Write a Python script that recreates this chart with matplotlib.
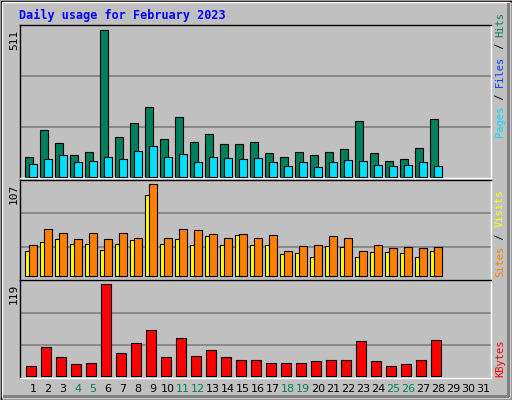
import matplotlib
matplotlib.use("Agg")
import matplotlib.pyplot as plt
from matplotlib.patches import Rectangle

days = list(range(1, 32))
hits = [67,161,115,74,84,511,136,185,241,129,206,119,147,112,112,119,81,67,84,74,84,95,192,81,53,60,98,199]
files = [42,60,74,49,53,67,60,88,105,67,77,49,67,63,60,63,49,35,49,32,49,56,53,39,35,39,49,35]
sites = [30,40,43,37,37,31,37,42,94,38,43,36,47,36,48,36,36,26,27,22,35,34,22,28,28,27,22,29]
visits = [36,55,50,43,50,43,50,45,107,44,55,54,49,45,49,44,48,29,35,36,47,45,30,36,33,34,33,34]
kbytes = [12,37,25,15,17,119,29,42,59,25,49,26,33,24,21,20,17,16,17,19,20,21,45,19,12,15,21,46]
weekend_days = [4,5,11,12,18,19,25,26]

W, H = 512, 400
fig = plt.figure(figsize=(W/100, H/100), dpi=100)
fig.patch.set_facecolor("#C0C0C0")
bg = fig.add_axes([0, 0, 1, 1]); bg.set_xlim(0, W); bg.set_ylim(H, 0); bg.axis("off")
bg.add_patch(Rectangle((0.5, 0.5), W-1, H-1, fill=False, ec="black", lw=1))
bg.add_patch(Rectangle((1.5, 1.5), W-5, H-5, fill=False, ec="white", lw=1))
bg.add_patch(Rectangle((W-5, 3), 3, H-6, fc="#808080", ec="none"))
bg.add_patch(Rectangle((3, H-5), W-6, 3, fc="#808080", ec="none"))
bg.text(19, 15, "Daily usage for February 2023", color="#0000FF", fontsize=8.5,
        family="DejaVu Sans Mono", fontweight="bold", va="center", ha="left")

L, R = 20.3, 490.7
def mkax(top, bottom):
    ax = fig.add_axes([L/W, 1-bottom/H, (R-L)/W, (bottom-top)/H])
    ax.set_facecolor("#C0C0C0")
    ax.set_xlim(0, (R-L)/15)
    for s in ax.spines.values():
        s.set_color("white"); s.set_linewidth(1)
    ax.spines["left"].set_color("black"); ax.spines["top"].set_color("black")
    ax.set_xticks([]); ax.set_yticks([])
    return ax

def grid(ax):
    lo, hi = ax.get_ylim()
    for f in (1/3, 2/3):
        ax.axhline(lo + f*(hi-lo), color="#808080", lw=1.2, zorder=0)

n = len(hits)
x = list(range(1, n+1))
ax1 = mkax(25, 178); ax1.set_ylim(-5, 527); grid(ax1)
ax1.bar([d-0.667 for d in x], hits, width=0.49, align="edge", color="#00805C", ec="black", lw=0.8, zorder=2)
ax1.bar([d-0.4 for d in x], files, width=0.49, align="edge", color="#00E0FF", ec="black", lw=0.8, zorder=3)

ax2 = mkax(180, 280); ax2.set_ylim(-4.3, 112); grid(ax2)
ax2.bar([d-0.667 for d in x], sites, width=0.49, align="edge", color="#FFFF00", ec="black", lw=0.8, zorder=2)
ax2.bar([d-0.4 for d in x], visits, width=0.49, align="edge", color="#FF8000", ec="black", lw=0.8, zorder=3)

ax3 = mkax(280, 378); ax3.set_ylim(-3, 124.7); grid(ax3)
ax3.bar([d-0.6 for d in x], kbytes, width=0.667, align="edge", color="#FF0000", ec="black", lw=0.8, zorder=2)

fm = dict(family="DejaVu Sans Mono", fontsize=8, rotation=90)
bg.text(14, 30, str(max(hits)), ha="center", va="top", color="black", **fm)
bg.text(14, 184, str(max(visits)), ha="center", va="top", color="black", **fm)
bg.text(14, 284, str(max(kbytes)), ha="center", va="top", color="black", **fm)

rs = 7.5
adv = 0.602 * rs * 100 / 72
def rlabel(ybot, parts):
    y = ybot
    for txt, col in parts:
        bg.text(500, y, txt, ha="center", va="bottom", color=col,
                family="DejaVu Sans Mono", fontsize=rs, rotation=90)
        y -= len(txt) * adv
rlabel(137, [("Pages", "#00E0FF"), (" / ", "black"), ("Files", "#0040FF"), (" / ", "black"), ("Hits", "#00805C")])
rlabel(277, [("Sites", "#FF8000"), (" / ", "black"), ("Visits", "#FFFF00")])
rlabel(377, [("KBytes", "#FF0000")])

for d in days:
    col = "#00805C" if d in weekend_days else "black"
    bg.text(L + (d-1)*15 + 12.7, 389, str(d), ha="center", va="center", color=col,
            fontsize=8, family="DejaVu Sans")

fig.savefig("out.png", dpi=100, facecolor=fig.get_facecolor())
